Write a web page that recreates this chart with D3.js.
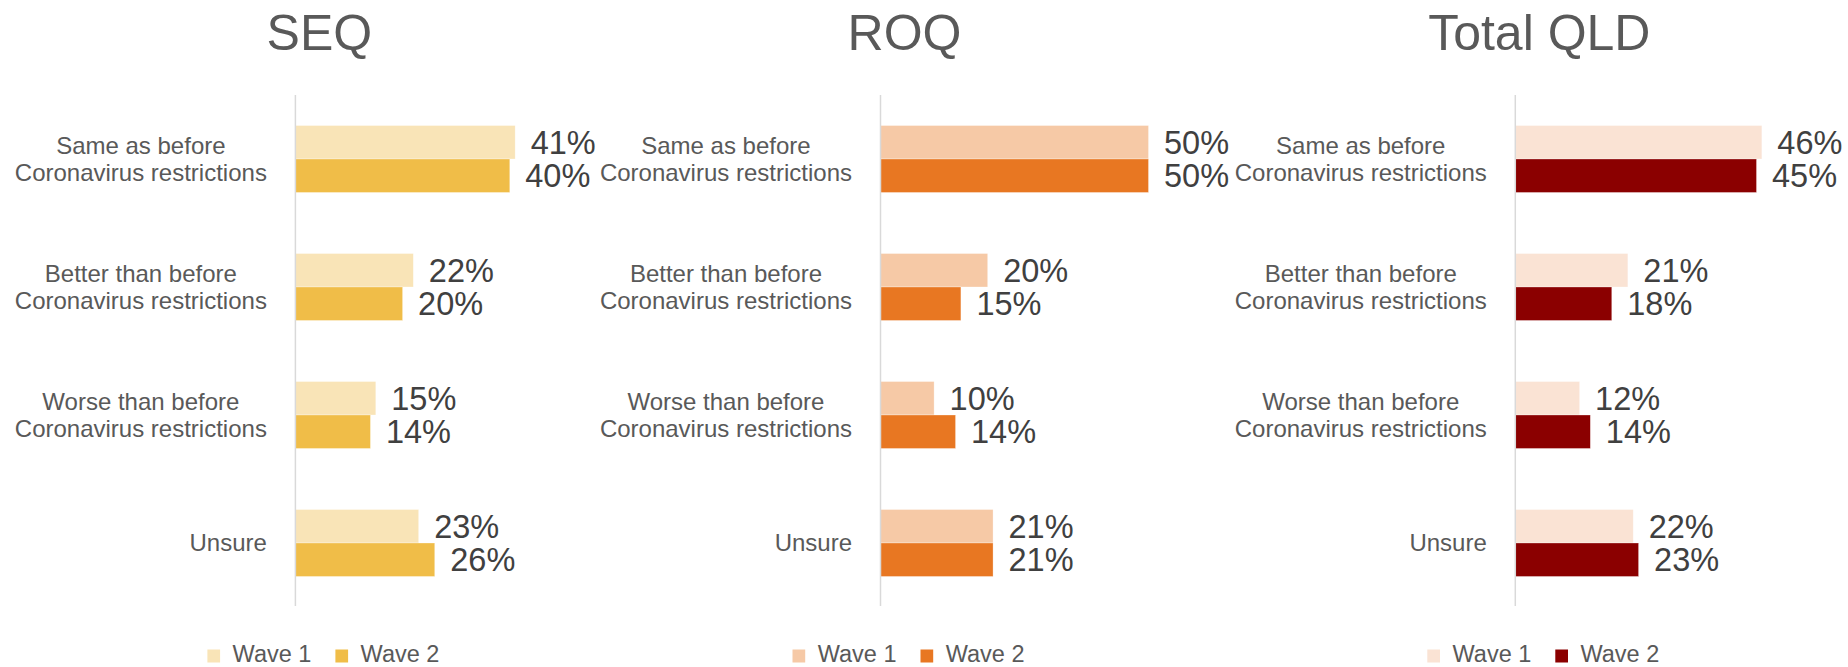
<!DOCTYPE html>
<html>
<head>
<meta charset="utf-8">
<script src="https://cdn.jsdelivr.net/npm/d3@7"></script>
<style>
  html, body { margin: 0; padding: 0; background: #fff; }
  svg { display: block; }
</style>
</head>
<body>
<svg id="chart" width="1848" height="667"></svg>
<script>
// ---------- data ----------
const categories = [
  "Same as before\nCoronavirus restrictions",
  "Better than before\nCoronavirus restrictions",
  "Worse than before\nCoronavirus restrictions",
  "Unsure"
];
const seriesNames = ["Wave 1", "Wave 2"];
const regions = ["SEQ", "ROQ", "Total QLD"];

const seqWave1 = [41, 22, 15, 23];
const seqWave2 = [40, 20, 14, 26];
const roqWave1 = [50, 20, 10, 21];
const roqWave2 = [50, 15, 14, 21];
const qldWave1 = [46, 21, 12, 22];
const qldWave2 = [45, 18, 14, 23];

const seqColors = ["#F9E4B7", "#F0BD48"];
const roqColors = ["#F6C9A6", "#E87722"];
const qldColors = ["#FAE3D4", "#8B0000"];

// ---------- layout ----------
const panels = [
  { title: regions[0], w1: seqWave1, w2: seqWave2, colors: seqColors, axisX: 295.4 },
  { title: regions[1], w1: roqWave1, w2: roqWave2, colors: roqColors, axisX: 880.5 },
  { title: regions[2], w1: qldWave1, w2: qldWave2, colors: qldColors, axisX: 1515.3 }
];
const plotTop = 95, plotBottom = 607;
const xSpan = 321.6; // pixels for 60%

const svg = d3.select("#chart");
const FONT = "'Liberation Sans', Arial, sans-serif";

function addText(g, x, y, str, size, color, anchor) {
  return g.append("text")
    .attr("x", x).attr("y", y)
    .attr("font-family", FONT)
    .attr("font-size", size)
    .attr("fill", color)
    .attr("text-anchor", anchor || "start")
    .text(str);
}

panels.forEach(p => {
  const g = svg.append("g");
  const x = d3.scaleLinear().domain([0, 60]).range([p.axisX, p.axisX + xSpan]);
  const y = d3.scaleBand().domain(categories).range([plotTop, plotBottom])
    .paddingInner(0.477).paddingOuter(0.2385);
  const ySub = d3.scaleBand().domain(seriesNames).range([0, y.bandwidth()]);

  // title
  addText(g, p.axisX + 24, 50, p.title, 50, "#595959", "middle");

  // bars
  const rows = categories.map((c, i) => ({ c, vals: [p.w1[i], p.w2[i]] }));
  const grp = g.selectAll("g.cat").data(rows).join("g")
    .attr("class", "cat")
    .attr("transform", d => `translate(0,${y(d.c)})`);

  grp.selectAll("rect").data(d => d.vals.map((v, k) => ({ v, k }))).join("rect")
    .attr("x", x(0))
    .attr("y", d => ySub(seriesNames[d.k]))
    .attr("width", d => x(d.v) - x(0))
    .attr("height", ySub.bandwidth())
    .attr("fill", d => p.colors[d.k])
    .attr("stroke", "#fff").attr("stroke-width", 0.6).attr("stroke-opacity", 0.5);

  grp.each(function(d) {
    const gg = d3.select(this);
    d.vals.forEach((v, k) => {
      addText(gg, x(v) + 15.5, ySub(seriesNames[k]) + ySub.bandwidth() / 2 + 11.7,
        v + "%", 32.5, "#404040", "start");
    });
  });

  // axis line
  g.append("line")
    .attr("x1", x(0)).attr("x2", x(0))
    .attr("y1", plotTop).attr("y2", plotBottom - 1)
    .attr("stroke", "#D9D9D9").attr("stroke-width", 1.5);

  // category labels (centered lines, right edge at axis - 28.5)
  categories.forEach(c => {
    const lines = c.split("\n");
    const cy = y(c) + y.bandwidth() / 2;
    const t = g.append("text")
      .attr("font-family", FONT).attr("font-size", 24)
      .attr("fill", "#595959").attr("text-anchor", "middle");
    lines.forEach((ln, i) => {
      t.append("tspan").attr("x", 0)
        .attr("y", 8.3 + (i - (lines.length - 1) / 2) * 27.5)
        .text(ln);
    });
    const w = t.node().getBBox().width;
    t.attr("transform", `translate(${p.axisX - 28.5 - w / 2},${cy})`);
  });

  // legend
  let lx = p.axisX - 88;
  const ly = 649.5;
  seriesNames.forEach((s, k) => {
    g.append("rect").attr("x", lx).attr("y", ly).attr("width", 12.7).attr("height", 13)
      .attr("fill", p.colors[k]);
    lx += 12.7 + 12.5;
    const t = addText(g, lx, 661.5, s, 23.5, "#595959", "start");
    lx += t.node().getBBox().width + 24;
  });
});
</script>
</body>
</html>
